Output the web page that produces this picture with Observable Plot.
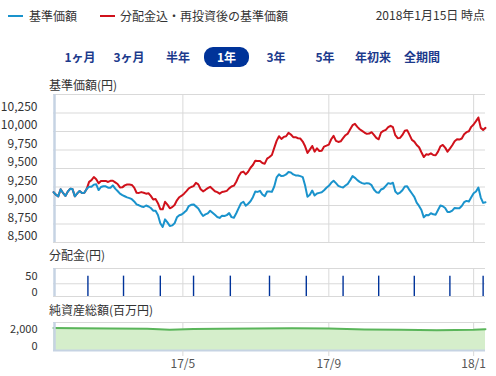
<!DOCTYPE html>
<html><head><meta charset="utf-8">
<script src="https://cdn.jsdelivr.net/npm/d3@7"></script>
<script src="https://cdn.jsdelivr.net/npm/@observablehq/plot@0.6"></script>
<style>
body{margin:0;background:#fff;}
#root{position:relative;width:496px;height:376px;overflow:hidden;font-family:'Noto Sans CJK JP','Noto Sans',sans-serif;color:#333;}
.t{position:absolute;white-space:nowrap;font-size:12px;line-height:16px;}
.tab{position:absolute;white-space:nowrap;font-size:12px;line-height:16px;font-weight:bold;color:#1c3a8c;transform:translateX(-50%);}
.p{position:absolute;left:0;}
</style></head>
<body><div id="root"></div>
<script>
// ---- data ----
const startDate = "2017-01-12";
const endDate = "2018-01-11";
const days = [
0,2,4,6,8,10,12,14,16,18,20,22,24,26,28,30,32,34,36,38,
40,42,44,46,48,50,52,54,56,58,60,62,64,66,68,70,72,74,76,78,
80,82,84,86,88,90,92,94,96,98,100,102,104,106,108,110,112,114,116,118,
120,122,124,126,128,130,132,134,136,138,140,142,144,146,148,150,152,154,156,158,
160,162,164,166,168,170,172,174,176,178,180,182,184,186,188,190,192,194,196,198,
200,202,204,206,208,210,212,214,216,218,220,222,224,226,228,230,232,234,236,238,
240,242,244,246,248,250,252,254,256,258,260,262,264,266,268,270,272,274,276,278,
280,282,284,286,288,290,292,294,296,298,300,302,304,306,308,310,312,314,316,318,
320,322,324,326,328,330,332,334,336,338,340,342,344,346,348,350,352,354,356,358,
360,362,364];
const navBase = [ // 基準価額
9180,9146,9124,9220,9170,9130,9186,9225,9222,9124,9164,9196,9168,9173,9225,9252,9252,9282,9287,9209,
9250,9261,9259,9241,9239,9272,9228,9196,9160,9140,9125,9110,9100,9085,9055,9015,9003,8987,8980,9000,
8987,8966,8930,8928,8871,8760,8710,8813,8772,8722,8731,8759,8840,8868,8879,8904,8933,8992,9010,9015,
8988,8960,8904,8858,8879,8893,8929,8902,8874,8845,8832,8863,8858,8870,8897,8843,8834,8895,8965,9030,
9051,8997,9024,9058,9112,9189,9184,9198,9148,9126,9189,9189,9184,9257,9379,9420,9397,9402,9420,9452,
9447,9420,9406,9406,9397,9384,9270,9117,9144,9202,9135,9162,9171,9180,9207,9239,9266,9307,9334,9302,
9266,9252,9243,9270,9293,9343,9397,9374,9343,9320,9302,9293,9302,9298,9275,9216,9180,9171,9216,9230,
9266,9302,9293,9307,9189,9157,9175,9207,9257,9261,9207,9162,9117,9039,8994,8940,8840,8872,8867,8895,
8881,8876,8940,8999,8990,8967,8913,8913,8931,8967,8962,8962,8994,9044,9062,9053,9112,9166,9189,9243,
9107,9035,9044];
const navReinvested = [ // 分配金込・再投資後の基準価額
9180,9146,9124,9220,9170,9130,9186,9225,9222,9124,9164,9196,9168,9173,9225,9320,9342,9385,9355,9300,
9332,9330,9332,9318,9333,9335,9312,9290,9244,9245,9272,9283,9283,9278,9242,9172,9170,9181,9172,9160,
9165,9130,9080,9088,9032,8950,8948,9050,9012,8962,8978,9007,9070,9112,9133,9160,9195,9232,9250,9262,
9306,9286,9220,9191,9212,9235,9252,9223,9193,9181,9160,9183,9190,9198,9231,9256,9268,9321,9394,9446,
9458,9421,9456,9510,9547,9606,9601,9601,9574,9565,9633,9655,9683,9778,9873,9936,9900,9927,9936,9982,
9959,9923,9923,9909,9905,9864,9800,9710,9755,9805,9728,9773,9737,9741,9796,9809,9823,9895,9941,9873,
9859,9868,9909,9950,9972,10031,10086,10104,10063,10031,10009,9986,9968,9972,9991,9954,9914,9895,9986,10009,
10022,10058,10077,10058,9950,9909,9914,9954,10009,10018,9954,9886,9864,9818,9787,9719,9655,9692,9687,9705,
9683,9678,9728,9800,9818,9782,9728,9769,9814,9868,9895,9891,9905,9963,9991,10004,10063,10095,10140,10190,
10049,10022,10049];
const distDates = ["2017-02-10","2017-03-12","2017-04-12","2017-05-10","2017-06-10","2017-07-13",
  "2017-08-13","2017-09-13","2017-10-13","2017-11-12","2017-12-12","2018-01-09"];
const distValues = [80,80,80,80,80,80,80,80,80,80,80,80];
const assetDates = ["2017-01-12","2017-02-01","2017-03-01","2017-04-01","2017-04-20","2017-05-10","2017-06-01",
  "2017-07-01","2017-08-01","2017-09-01","2017-10-01","2017-11-01","2017-12-01","2018-01-01","2018-01-11"];
const assetValues = [3200,3180,3150,3120,2950,3080,3100,3150,3180,3130,3000,2950,2900,2950,3050];
const yTicks = [8500,8750,9000,9250,9500,9750,10000,10250];
const yGrid = [8500,8750,9000,9250,9500,9750,10000,10250,10500];
const distTicks = [0,50];
const assetTicks = [0,2000];
const xTickDates = ["2017-05-01","2017-09-01","2018-01-01"];
const xTickLabels = ["17/5","17/9","18/1"];
const tabs = ["1ヶ月","3ヶ月","半年","1年","3年","5年","年初来","全期間"];

// ---- build ----
const BLUE = "#1a93cc", RED = "#d0111b", GRID = "#d9d9d9", AXIS = "#c6d3e3";
const x0 = new Date(startDate), x1 = new Date(endDate);
const series = days.map((d, i) => ({date: d3.utcDay.offset(x0, d), blue: navBase[i], red: navReinvested[i]}));
const dist = distDates.map((d, i) => ({date: new Date(d), value: distValues[i]}));
const assets = assetDates.map((d, i) => ({date: new Date(d), value: assetValues[i]}));
const gridDates = xTickDates.map(d => new Date(d));
const labelOf = new Map(gridDates.map((d, i) => [+d, xTickLabels[i]]));
const root = document.getElementById("root");
const style = {fontFamily: "'Noto Sans CJK JP','Noto Sans',sans-serif", fontSize: "12px", color: "#333", background: "transparent", overflow: "visible"};

function txt(s, left, cy, extra) {
  const e = document.createElement("div");
  e.className = "t"; e.textContent = s;
  e.style.left = left + "px"; e.style.top = (cy - 8) + "px";
  if (extra) Object.assign(e.style, extra);
  root.appendChild(e); return e;
}
function box(left, top, w, h, bg, r) {
  const e = document.createElement("div");
  Object.assign(e.style, {position: "absolute", left: left + "px", top: top + "px", width: w + "px", height: h + "px", background: bg, borderRadius: (r || 0) + "px"});
  root.appendChild(e); return e;
}
// legend
box(8, 15, 15, 2, BLUE);
txt("基準価額", 29, 16);
box(100, 15, 15, 2, RED);
txt("分配金込・再投資後の基準価額", 120, 16);
txt("2018年1月15日 時点", 0, 15, {left: "auto", right: "11px"});
// tabs
const tabX = [80, 129, 178, 226.5, 276, 325, 373, 422];
box(204, 47, 45, 20, "#003399", 9);
tabs.forEach((s, i) => {
  const e = document.createElement("div");
  e.className = "tab"; e.textContent = s;
  e.style.left = tabX[i] + "px"; e.style.top = "49px";
  if (s === "1年") e.style.color = "#fff";
  root.appendChild(e);
});
// section labels
txt("基準価額(円)", 49, 85);
txt("分配金(円)", 49, 255);
txt("純資産総額(百万円)", 49, 310);

function place(svg, top) {
  const d = document.createElement("div");
  d.className = "p"; d.style.top = top + "px";
  d.appendChild(svg); root.appendChild(d);
}
// small-panel y labels: upper label nudged up, lower label nudged down a touch
const smallAxis = (ticks, fmt) => [
  Plot.axisY([ticks[1]], {tickSize: 0, tickPadding: 16, tickFormat: fmt, dy: -7, fontSize: 11, label: null}),
  Plot.axisY([ticks[0]], {tickSize: 0, tickPadding: 16, tickFormat: fmt, dy: -4, fontSize: 11, label: null})
];

// main chart
place(Plot.plot({
  width: 496, height: 164, marginLeft: 53, marginRight: 11, marginTop: 6, marginBottom: 10, style,
  x: {type: "utc", domain: [x0, x1], axis: null},
  y: {domain: [8500, 10500]},
  marks: [
    Plot.ruleY(yGrid, {stroke: GRID}),
    Plot.ruleX(gridDates, {stroke: GRID}),
    Plot.ruleX([x0], {stroke: AXIS, strokeWidth: 2.5, dx: 1}),
    Plot.line(series, {x: "date", y: "red", stroke: RED, strokeWidth: 2}),
    Plot.line(series, {x: "date", y: "blue", stroke: BLUE, strokeWidth: 2}),
    Plot.axisY(yTicks, {tickSize: 0, tickPadding: 16, tickFormat: d3.format(","), dy: -6, label: null})
  ]
}), 88);

// distribution chart
place(Plot.plot({
  width: 496, height: 38, marginLeft: 53, marginRight: 11, marginTop: 6, marginBottom: 4, style,
  x: {type: "utc", domain: [x0, x1], axis: null},
  y: {domain: [0, 110]},
  marks: [
    Plot.ruleY([0, 50, 110], {stroke: GRID}),
    Plot.ruleX(gridDates, {stroke: GRID}),
    Plot.ruleX([x0], {stroke: AXIS, strokeWidth: 2.5, dx: 1}),
    Plot.ruleX(dist, {x: "date", y1: 0, y2: "value", stroke: "#00339a", strokeWidth: 1.4}),
    ...smallAxis(distTicks, d3.format(","))
  ]
}), 262);

// net assets chart
place(Plot.plot({
  width: 496, height: 60, marginLeft: 53, marginRight: 11, marginTop: 6, marginBottom: 26, style,
  x: {type: "utc", domain: [x0, x1]},
  y: {domain: [0, 4000]},
  marks: [
    Plot.ruleY([2000, 4000], {stroke: GRID}),
    Plot.ruleX(gridDates, {stroke: GRID}),
    Plot.areaY(assets, {x: "date", y: "value", fill: "#d5eecb"}),
    Plot.line(assets, {x: "date", y: "value", stroke: "#5ab55a", strokeWidth: 2}),
    Plot.ruleY([0], {stroke: AXIS, strokeWidth: 2}),
    Plot.ruleX([x0], {stroke: AXIS, strokeWidth: 2.5, dx: 1}),
    ...smallAxis(assetTicks, d3.format(",")),
    Plot.axisX(gridDates, {tickSize: 6, tickPadding: 3, tickFormat: d => labelOf.get(+d), stroke: GRID, fill: "#555", label: null})
  ]
}), 316);
</script></body></html>
